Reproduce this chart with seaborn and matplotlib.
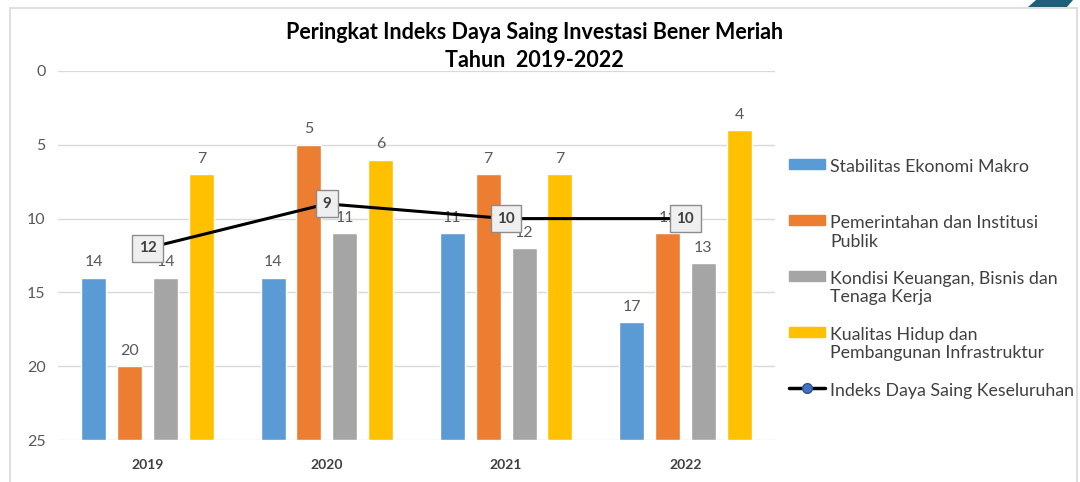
import numpy as np
import pandas as pd
import matplotlib
matplotlib.use("Agg")
import matplotlib.pyplot as plt
from matplotlib.patches import Rectangle, Polygon, Patch
from matplotlib.lines import Line2D
import seaborn as sns

# ─── Data ────────────────────────────────────────────────
years = ["2019", "2020", "2021", "2022"]
pillars = [
    "Stabilitas Ekonomi Makro",
    "Pemerintahan dan Institusi\nPublik",
    "Kondisi Keuangan, Bisnis dan\nTenaga Kerja",
    "Kualitas Hidup dan\nPembangunan Infrastruktur",
]
stabilitas = [14, 14, 11, 17]
pemerintahan = [20, 5, 7, 11]
keuangan = [14, 11, 12, 13]
kualitas = [7, 6, 7, 4]
overall = [12, 9, 10, 10]
overall_name = "Indeks Daya Saing Keseluruhan"

BASE = 25  # bars grow up from the bottom of the inverted axis

# ─── Style ────────────────────────────────────────────────
COLORS = ["#5B9BD5", "#ED7D31", "#A5A5A5", "#FFC000"]
TXT = "#595959"
DARKTXT = "#404040"
sns.set_theme(style="white")
plt.rcParams["font.family"] = ["Lato", "DejaVu Sans"]

df = pd.DataFrame({
    "Tahun": years * 4,
    "Pilar": np.repeat(pillars, 4),
    "Peringkat": stabilitas + pemerintahan + keuangan + kualitas,
})
df["Tinggi"] = df["Peringkat"] - BASE

fig = plt.figure(figsize=(10.8, 4.82), dpi=100)
ax = fig.add_axes([58 / 1080, 1 - 440 / 482, 717 / 1080, 369 / 482])

sns.barplot(data=df, x="Tahun", y="Tinggi", hue="Pilar", hue_order=pillars,
            order=years, palette=COLORS, saturation=1, width=0.8, gap=0.3,
            bottom=BASE, errorbar=None, legend=False, ax=ax, zorder=2)

ax.set_ylim(25, 0)
ax.set_xlim(-0.5, 3.5)
ax.set_yticks(range(0, 26, 5))
ax.yaxis.grid(True, color="#D9D9D9", lw=1, zorder=0)
ax.set_axisbelow(True)
for s in ax.spines.values():
    s.set_visible(False)
ax.set_xlabel("")
ax.set_ylabel("")
ax.tick_params(axis="y", colors=TXT, labelsize=11.5, length=0, pad=9)
ax.tick_params(axis="x", colors=DARKTXT, labelsize=10, length=0, pad=14)
for lbl in ax.get_xticklabels():
    lbl.set_fontweight("bold")

# value labels above the bars
for cont in ax.containers:
    for bar in cont:
        top = bar.get_y() + bar.get_height()
        ax.annotate(f"{top:.0f}", (bar.get_x() + bar.get_width() / 2, top),
                    xytext=(0, 6), textcoords="offset points",
                    ha="center", va="bottom", fontsize=11.5, color=TXT, zorder=3)

# overall index line
sns.lineplot(x=np.arange(len(years)), y=overall, color="black", lw=2.2,
             marker="o", markersize=7, markerfacecolor="#4472C4",
             markeredgecolor="#2F528F", ax=ax, zorder=4, legend=False)
for i, v in enumerate(overall):
    ax.text(i, v, f"{v}", ha="center", va="center", fontsize=11,
            fontweight="bold", color=DARKTXT, zorder=5,
            bbox=dict(boxstyle="square,pad=0.42", fc="#EFEFEF", ec="#8C8C8C", lw=1))

# legend: every label padded to two lines so first lines sit evenly spaced
labels = [p if "\n" in p else p + "\n " for p in pillars + [overall_name]]
handles = [Patch(color=c) for c in COLORS]
handles.append(Line2D([], [], color="black", lw=2.5, marker="o", markersize=7,
                      markerfacecolor="#4472C4", markeredgecolor="#2F528F"))
leg = fig.legend(handles, labels, loc="upper left",
                 bbox_to_anchor=(773 / 1080, 1 - 143 / 482), frameon=False,
                 fontsize=12.8, labelcolor=DARKTXT, handlelength=2.0,
                 handleheight=0.5, handletextpad=0.3, labelspacing=1.2)
for row in leg._legend_handle_box.get_children():
    for hp in row.get_children():
        hp.align = "top"

# title
fig.text(0.495, 1 - 22 / 482,
         "Peringkat Indeks Daya Saing Investasi Bener Meriah\nTahun  2019-2022",
         ha="center", va="top", fontsize=15.5, fontweight="bold", color="#000000",
         linespacing=1.4)

# chart frame + slide decoration
fig.patches.append(Rectangle((10 / 1080, -0.1), 1067 / 1080, 1.1 - 8 / 482,
                             transform=fig.transFigure, fill=False,
                             ec="#D9D9D9", lw=1.2))
fig.patches.append(Polygon([(1028 / 1080, 1 - 7 / 482), (1067 / 1080, 1 - 7 / 482),
                            (1073 / 1080, 1.0), (1036 / 1080, 1.0)],
                           closed=True, transform=fig.transFigure,
                           fc="#1F5F7A", ec="none"))

plt.savefig("out.png", dpi=100)
plt.close()
